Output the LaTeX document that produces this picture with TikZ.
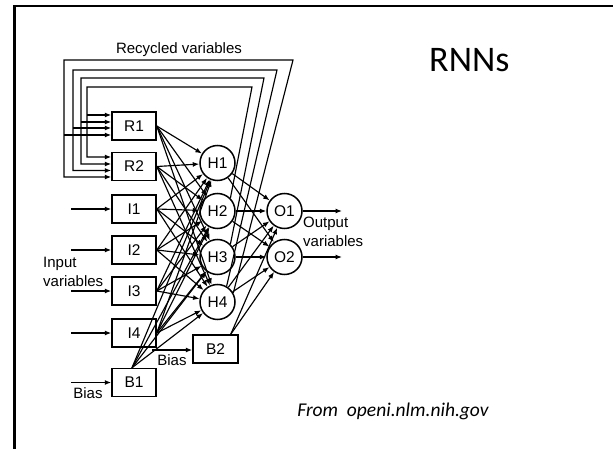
\documentclass[tikz,border=0pt]{standalone}
\usepackage{fontspec}
\setmainfont{Liberation Sans}
\newfontfamily\slidefont{Carlito}
\usetikzlibrary{arrows.meta}
\begin{document}
\begin{tikzpicture}[x=1pt,y=-1pt,
  unit/.style={draw,line width=1.5pt,minimum width=44pt,minimum height=28pt,inner sep=0pt,
               font=\fontsize{15.5}{17}\selectfont},
  neuron/.style={draw,circle,line width=1.5pt,minimum size=35pt,inner sep=0pt,
               font=\fontsize{15.5}{17}\selectfont},
  link/.style={line width=1.15pt,-{Latex[length=6.5pt,width=5pt]}},
  lbl/.style={inner sep=0pt,font=\fontsize{15}{18.5}\selectfont,align=left}]
\useasboundingbox (0,0) rectangle (613,449);

% slide frame
\draw[line width=2.4pt] (14.5,449) -- (14.5,6.2) -- (613,6.2);

% titles
\node[anchor=base west,inner sep=0pt,font=\slidefont\fontsize{36}{40}\selectfont] (title) at (429,72) {RNNs};
\node[anchor=center,inner sep=0pt,font=\slidefont\itshape\fontsize{19.5}{22}\selectfont] (source) at (393,411) {From\ \ openi.nlm.nih.gov};

% input layer
\node[unit] (R1) at (134,126) {R1};
\node[unit] (R2) at (134,166.5) {R2};
\node[unit] (I1) at (134,209) {I1};
\node[unit] (I2) at (134,250) {I2};
\node[unit] (I3) at (134,291) {I3};
\node[unit] (I4) at (134,333) {I4};
\node[unit] (B1) at (134,382.5) {B1};
\node[unit,minimum width=45pt] (B2) at (215.5,349) {B2};

% hidden and output layers
\node[neuron] (H1) at (217.5,163) {H1};
\node[neuron] (H2) at (217.5,211) {H2};
\node[neuron] (H3) at (217.5,257) {H3};
\node[neuron] (H4) at (217.5,302) {H4};
\node[neuron] (O1) at (284.5,211) {O1};
\node[neuron] (O2) at (284.5,257) {O2};

% labels
\node[lbl] (rec) at (179,50) {Recycled variables};
\node[lbl,anchor=west] (inlbl) at (43,272) {Input\\variables};
\node[lbl,anchor=west] (outlbl) at (303,232) {Output\\variables};
\node[lbl] (bias1) at (88,393) {Bias};
\node[lbl] (bias2) at (172,360) {Bias};

% external inputs
\foreach \n in {I1,I2,I3,I4,B1}{
  \coordinate (src\n) at ([xshift=-40pt]\n.west);
  \draw[link] (src\n) -- (\n.west);
}
\coordinate (srcB2) at (152,350);
\draw[link] (srcB2) -- (srcB2 -| B2.west);

% outputs
\coordinate (outO1) at (342,211);
\coordinate (outO2) at (342,257);
\draw[link] (O1.east) -- (outO1);
\draw[link] (O2.east) -- (outO2);

% input -> hidden
\foreach \s in {R1,R2,I1,I2,I3,I4}{
  \foreach \t in {H1,H2,H3,H4}{
    \draw[link] (\s.east) -- (\t);
  }
}
\foreach \t in {H1,H2,H3,H4}{
  \draw[link] ([xshift=-2pt]B1.north) -- (\t);
}

% hidden -> output
\foreach \s in {H1,H2,H3,H4}{
  \foreach \t in {O1,O2}{
    \draw[link] (\s) -- (\t);
  }
}
\foreach \t in {O1,O2}{
  \draw[link] ([xshift=-8pt]B2.north east) -- (\t);
}

% recycled loops back to the context units
\coordinate (ta) at (252,87);  \coordinate (ca) at (87,87);
\coordinate (pa) at (87,115);  \coordinate (qa) at (87,157);
\coordinate (tb) at (264,78);  \coordinate (cb) at (81,78);
\coordinate (pb) at (81,122);  \coordinate (qb) at (81,164);
\coordinate (tc) at (277,70);  \coordinate (cc) at (73,70);
\coordinate (pc) at (73,128);  \coordinate (qc) at (73,170.5);
\coordinate (td) at (293,60);  \coordinate (cd) at (64,60);
\coordinate (pd) at (64,135);  \coordinate (qd) at (64,177);

\draw[link] (H2.45) -- (ta) -- (ca) -- (qa) -- (qa -| R2.west);
\draw[link] (H3.45) -- (tb) -- (cb) -- (qb) -- (qb -| R2.west);
\draw[link] (H4.60) -- (tc) -- (cc) -- (qc) -- (qc -| R2.west);
\draw[link] (H4.30) -- (td) -- (cd) -- (qd) -- (qd -| R2.west);
\draw[link] (pa) -- (pa -| R1.west);
\draw[link] (pb) -- (pb -| R1.west);
\draw[link] (pc) -- (pc -| R1.west);
\draw[link] (pd) -- (pd -| R1.west);
\end{tikzpicture}
\end{document}
